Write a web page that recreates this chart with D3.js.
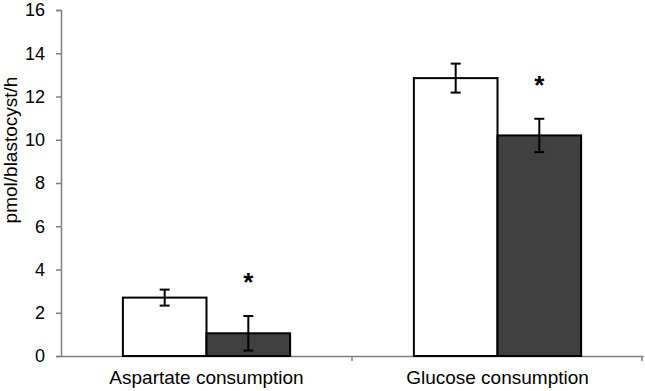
<!DOCTYPE html>
<html>
<head>
<meta charset="utf-8">
<script src="https://cdn.jsdelivr.net/npm/d3@7"></script>
<style>
  body { margin: 0; background: #fff; }
  text { font-family: "Liberation Sans", Arial, sans-serif; fill: #000; }
</style>
</head>
<body>
<div id="chart"></div>
<script>
// data
const categories = ["Aspartate consumption", "Glucose consumption"];
const groups = ["control", "treated"];
const means = [[2.7, 1.05], [12.85, 10.2]];
const errors = [[0.37, 0.8], [0.67, 0.77]];
const significant = [[false, true], [false, true]];
const yTicks = [0, 2, 4, 6, 8, 10, 12, 14, 16];

const width = 645, height = 391;
const margin = { top: 10, right: 2, bottom: 35, left: 61 };

const svg = d3.select("#chart").append("svg")
    .attr("width", width)
    .attr("height", height);

const x0 = d3.scaleBand()
    .domain(categories)
    .range([margin.left, width - margin.right])
    .padding(0);

const x1 = d3.scaleBand()
    .domain(groups)
    .range([0, x0.bandwidth()])
    .paddingInner(0)
    .paddingOuter(0.74);

const y = d3.scaleLinear()
    .domain([0, 16])
    .range([height - margin.bottom, margin.top]);

const fills = { control: "#ffffff", treated: "#404040" };

// y axis
const yAxis = svg.append("g")
    .attr("transform", `translate(${margin.left},0)`)
    .call(d3.axisLeft(y).tickValues(yTicks).tickSize(5).tickPadding(11));
yAxis.select(".domain").attr("stroke", "#808080").attr("stroke-width", 1.5);
yAxis.selectAll(".tick line").attr("stroke", "#808080").attr("stroke-width", 1.5);
yAxis.selectAll(".tick text").style("font-size", "18px");

// x axis
const xAxis = svg.append("g")
    .attr("transform", `translate(0,${y(0)})`)
    .call(d3.axisBottom(x0).tickSize(0).tickPadding(15));
xAxis.select(".domain").attr("stroke", "#808080").attr("stroke-width", 1.5);
xAxis.selectAll(".tick text").style("font-size", "19px");
// boundary ticks between categories
const edges = [x0.range()[0] + x0.step(), x0.range()[1] - 1];
xAxis.selectAll(".edge").data(edges).enter().append("line")
    .attr("x1", d => d).attr("x2", d => d)
    .attr("y1", 0).attr("y2", 5)
    .attr("stroke", "#808080").attr("stroke-width", 1.5);

// bars
const cat = svg.selectAll(".cat")
    .data(categories)
    .enter().append("g")
    .attr("class", "cat")
    .attr("transform", d => `translate(${x0(d)},0)`);

cat.each(function (c, ci) {
  const g = d3.select(this);
  groups.forEach((grp, gi) => {
    const v = means[ci][gi], e = errors[ci][gi];
    const cx = x1(grp) + x1.bandwidth() / 2;
    g.append("rect")
        .attr("x", x1(grp))
        .attr("y", y(v))
        .attr("width", x1.bandwidth())
        .attr("height", y(0) - y(v))
        .attr("fill", fills[grp])
        .attr("stroke", "#000")
        .attr("stroke-width", 2);
    // error bar
    g.append("line")
        .attr("x1", cx).attr("x2", cx)
        .attr("y1", y(v + e)).attr("y2", y(v - e))
        .attr("stroke", "#000").attr("stroke-width", 2);
    [v + e, v - e].forEach(t => {
      g.append("line")
          .attr("x1", cx - 5).attr("x2", cx + 5)
          .attr("y1", y(t)).attr("y2", y(t))
          .attr("stroke", "#000").attr("stroke-width", 2);
    });
    if (significant[ci][gi]) {
      g.append("text")
          .attr("x", cx)
          .attr("y", y(v + e) - 40)
          .attr("text-anchor", "middle")
          .style("font-size", "26px")
          .style("font-weight", "bold")
          .attr("dy", "0.58em")
          .text("*");
    }
  });
});

// y label
svg.append("text")
    .attr("transform", "translate(17,150) rotate(-90)")
    .attr("text-anchor", "middle")
    .style("font-size", "19px")
    .text("pmol/blastocyst/h");
</script>
</body>
</html>
